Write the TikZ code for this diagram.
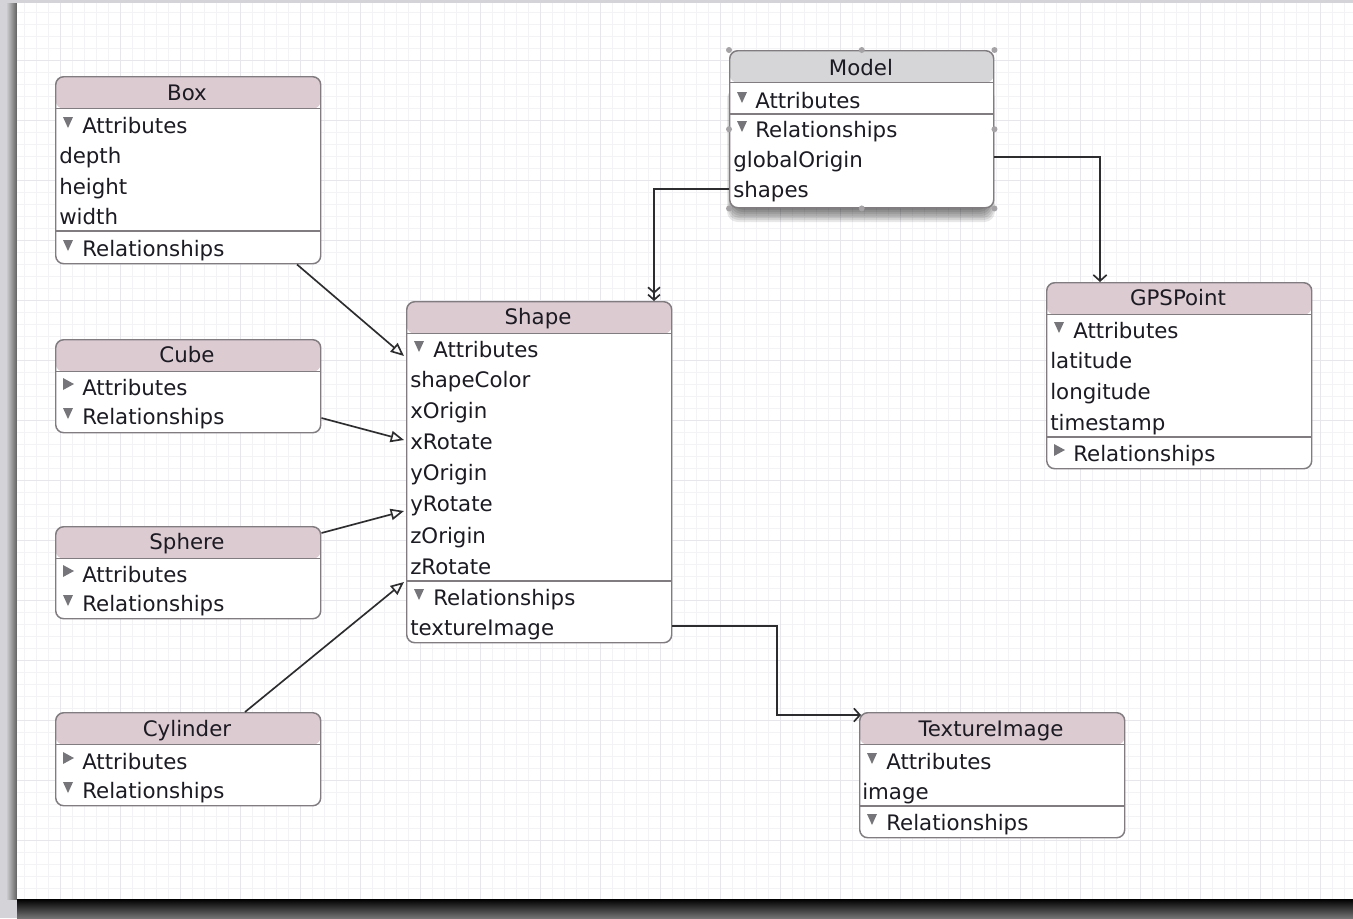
\documentclass[tikz,border=0pt]{standalone}
\usepackage{fontspec}
\setmainfont{DejaVu Sans}
\usetikzlibrary{arrows.meta,calc}

\definecolor{hdrpink}{RGB}{221,203,210}
\definecolor{hdrgray}{RGB}{214,214,216}
\definecolor{boxgray}{RGB}{128,124,128}
\definecolor{trigray}{RGB}{118,118,122}
\definecolor{linkgray}{RGB}{45,45,48}
\definecolor{framegray}{RGB}{212,212,216}
\definecolor{gridminor}{RGB}{243,243,246}
\definecolor{gridmajor}{RGB}{230,230,235}
\definecolor{inkdark}{RGB}{28,26,34}

\tikzset{
  entity/.style={draw=boxgray, line width=1.1pt, fill=white, rounded corners=6pt, inner sep=0pt, anchor=north west,
    path picture={\fill[#1] (path picture bounding box.north west) rectangle ([yshift=-24pt]path picture bounding box.north east);
      \draw[boxgray, line width=1.1pt] ([yshift=-24pt]path picture bounding box.north west) -- ([yshift=-24pt]path picture bounding box.north east);}},
  entity/.default=hdrpink,
  title/.style={anchor=base, inner sep=0pt, text=inkdark, font=\fontsize{16}{19}\selectfont},
  row/.style={anchor=base west, inner sep=0pt, text=inkdark, font=\fontsize{16}{19}\selectfont},
  divider/.style={draw=boxgray, line width=1.1pt},
  inherit/.style={draw=linkgray, line width=1.25pt, -{Triangle[open,length=10pt,width=8.5pt]}},
  tomany/.style={draw=linkgray, line width=1.25pt, -{Straight Barb[length=4pt,width=9pt] Straight Barb[length=4pt,width=9pt]}},
  toone/.style={draw=linkgray, line width=1.25pt, -{Straight Barb[length=4.5pt,width=10pt]}},
  tridown/.pic={\fill[trigray] (-5,5) -- (5,5) -- (0,-6) -- cycle;},
  triright/.pic={\fill[trigray] (-5,6) -- (-5,-6) -- (6,0) -- cycle;},
}

\begin{document}
\begin{tikzpicture}[x=0.75pt,y=0.75pt,yscale=-1,xscale=1]
    \useasboundingbox (0,0) rectangle (1353,918);

    % Window frame and grid
    \fill[framegray] (0,0) rectangle (1353,918);
    \shade[left color=framegray, right color=gray!75!black] (6,3) rectangle (17,899);
    \fill[white] (17,3) rectangle (1353,899);
    \draw[gridminor, line width=0.5pt, step=12] (17,3) grid (1353,899);
    \draw[gridmajor, line width=0.6pt, step=60] (17,3) grid (1353,899);
    \shade[top color=black, bottom color=black!55] (17,899) rectangle (1353,918);

    % Box
    \node[entity, minimum width=198.75pt, minimum height=140.25pt] (box) at (55,76) {};
    \node[title] (box-t) at (187,100) {Box};
    \pic at (68,122) {tridown};
    \node[row] (box-a) at (82,133) {Attributes};
    \node[row] (box-1) at (59,163) {depth};
    \node[row] (box-2) at (59,194) {height};
    \node[row] (box-3) at (59,224) {width};
    \draw[divider] (55,231) -- (320,231);
    \pic at (68,245) {tridown};
    \node[row] (box-r) at (82,256) {Relationships};

    % Cube
    \node[entity, minimum width=198.75pt, minimum height=69.75pt] (cube) at (55,339) {};
    \node[title] (cube-t) at (187,362) {Cube};
    \pic at (68,384) {triright};
    \node[row] (cube-a) at (82,395) {Attributes};
    \pic at (68,413) {tridown};
    \node[row] (cube-r) at (82,424) {Relationships};

    % Sphere
    \node[entity, minimum width=198.75pt, minimum height=69pt] (sphere) at (55,526) {};
    \node[title] (sphere-t) at (187,549) {Sphere};
    \pic at (68,571) {triright};
    \node[row] (sphere-a) at (82,582) {Attributes};
    \pic at (68,600) {tridown};
    \node[row] (sphere-r) at (82,611) {Relationships};

    % Cylinder
    \node[entity, minimum width=198.75pt, minimum height=69.75pt] (cyl) at (55,712) {};
    \node[title] (cyl-t) at (187,736) {Cylinder};
    \pic at (68,758) {triright};
    \node[row] (cyl-a) at (82,769) {Attributes};
    \pic at (68,787) {tridown};
    \node[row] (cyl-r) at (82,798) {Relationships};

    % Shape
    \node[entity, minimum width=198.75pt, minimum height=255.75pt] (shape) at (406,301) {};
    \node[title] (shape-t) at (538,324) {Shape};
    \pic at (419,346) {tridown};
    \node[row] (shape-a) at (433,357) {Attributes};
    \node[row] (shape-1) at (410,387) {shapeColor};
    \node[row] (shape-2) at (410,418) {xOrigin};
    \node[row] (shape-3) at (410,449) {xRotate};
    \node[row] (shape-4) at (410,480) {yOrigin};
    \node[row] (shape-5) at (410,511) {yRotate};
    \node[row] (shape-6) at (410,543) {zOrigin};
    \node[row] (shape-7) at (410,574) {zRotate};
    \draw[divider] (406,581) -- (671,581);
    \pic at (419,594) {tridown};
    \node[row] (shape-r) at (433,605) {Relationships};
    \node[row] (shape-8) at (410,635) {textureImage};

    % Model (selected), soft shadow first
    \foreach \i in {1,...,8}
      \fill[black, opacity=0.09, rounded corners=8pt] (735-\i,80+\i) rectangle (987+\i,206+2*\i);
    \node[entity=hdrgray, minimum width=198pt, minimum height=117.75pt] (model) at (729,50) {};
    \foreach \a in {north west, north, north east, west, east, south west, south, south east}
      \fill[boxgray!70] (model.\a) circle (3);
    \node[title] (model-t) at (861,75) {Model};
    \pic at (742,97) {tridown};
    \node[row] (model-a) at (755,108) {Attributes};
    \draw[divider] (729,114) -- (993,114);
    \pic at (742,126) {tridown};
    \node[row] (model-r) at (755,137) {Relationships};
    \node[row] (model-1) at (733,167) {globalOrigin};
    \node[row] (model-2) at (733,197) {shapes};

    % GPSPoint
    \node[entity, minimum width=198.75pt, minimum height=139.5pt] (gps) at (1046,282) {};
    \node[title] (gps-t) at (1178,305) {GPSPoint};
    \pic at (1059,327) {tridown};
    \node[row] (gps-a) at (1073,338) {Attributes};
    \node[row] (gps-1) at (1050,368) {latitude};
    \node[row] (gps-2) at (1050,399) {longitude};
    \node[row] (gps-3) at (1050,430) {timestamp};
    \draw[divider] (1046,437) -- (1311,437);
    \pic at (1059,450) {triright};
    \node[row] (gps-r) at (1073,461) {Relationships};

    % TextureImage
    \node[entity, minimum width=198.75pt, minimum height=93.75pt] (tex) at (859,712) {};
    \node[title] (tex-t) at (991,736) {TextureImage};
    \pic at (872,758) {tridown};
    \node[row] (tex-a) at (886,769) {Attributes};
    \node[row] (tex-1) at (862,799) {image};
    \draw[divider] (859,806) -- (1124,806);
    \pic at (872,819) {tridown};
    \node[row] (tex-r) at (886,830) {Relationships};

    % Inheritance
    \draw[inherit] ($(box.south west)+(242,0)$) -- ($(shape.north west)+(-2,55)$);
    \draw[inherit] ($(cube.north east)+(0,79)$) -- ($(shape.north west)+(-2,139)$);
    \draw[inherit] ($(sphere.north east)+(0,7)$) -- ($(shape.north west)+(-2,210)$);
    \draw[inherit] ($(cyl.north west)+(190,0)$) -- ($(shape.north west)+(-2,281)$);

    % Relationships
    \draw[tomany] ($(model.north west)+(0,139)$) -| ($(shape.north west)+(248,0)$);
    \draw[toone] ($(model.north east)+(0,107)$) -| ($(gps.north west)+(54,0)$);
    \draw[toone] ($(shape.north east)+(0,325)$) -| ($(tex.north west)+(-82,3)$) -- ($(tex.north west)+(2,3)$);

\end{tikzpicture}
\end{document}
